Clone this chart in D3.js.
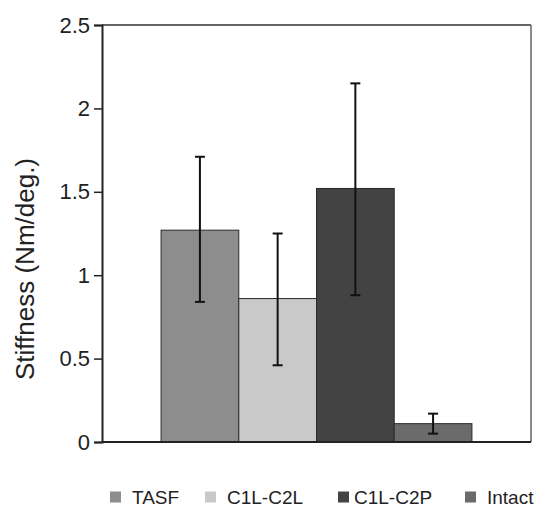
<!DOCTYPE html>
<html>
<head>
<meta charset="utf-8">
<script src="https://cdn.jsdelivr.net/npm/d3@7"></script>
<style>
  body { margin: 0; background: #fff; }
  svg { display: block; font-family: Arial, "Liberation Sans", sans-serif; }
</style>
</head>
<body>
<div id="chart"></div>
<script>
const SERIES = ['TASF', 'C1L-C2L', 'C1L-C2P', 'Intact']
const MEANS = [1.27, 0.86, 1.52, 0.11]
const ERR_LOW = [0.84, 0.46, 0.88, 0.05]
const ERR_HIGH = [1.71, 1.25, 2.15, 0.17]
const COLORS = ['#8d8d8d', '#c9c9c9', '#434343', '#6b6b6b']
const Y_TICKS = [0, 0.5, 1, 1.5, 2, 2.5]
const Y_TICK_LABELS = ['0', '0.5', '1', '1.5', '2', '2.5']

const W = 539, H = 510
const margin = { top: 25, right: 8, bottom: 68, left: 102 }
const iw = W - margin.left - margin.right
const ih = H - margin.top - margin.bottom

const svg = d3.select('#chart').append('svg')
  .attr('width', W)
  .attr('height', H)

const g = svg.append('g').attr('transform', `translate(${margin.left},${margin.top})`)

const y = d3.scaleLinear().domain([0, 2.5]).range([ih, 0])

// one category group, four bars
const group = d3.scaleBand().domain(['all']).range([0, iw]).paddingOuter(0.19).paddingInner(0)
const x = d3.scaleBand().domain(SERIES).range([0, group.bandwidth()])

const rows = SERIES.map((s, i) => ({ s, v: MEANS[i], lo: ERR_LOW[i], hi: ERR_HIGH[i], c: COLORS[i] }))

// box: top + right
g.append('line').attr('x1', 0).attr('x2', iw).attr('y1', 0).attr('y2', 0)
  .attr('stroke', '#333').attr('stroke-width', 1.5)
g.append('line').attr('x1', iw).attr('x2', iw).attr('y1', 0).attr('y2', ih)
  .attr('stroke', '#666').attr('stroke-width', 1.5)

const bars = g.append('g').attr('transform', `translate(${group('all')},0)`)

bars.selectAll('rect')
  .data(rows)
  .enter().append('rect')
  .attr('x', d => x(d.s))
  .attr('width', x.bandwidth())
  .attr('y', d => y(d.v))
  .attr('height', d => ih - y(d.v))
  .attr('fill', d => d.c)
  .attr('stroke', '#2a2a2a')
  .attr('stroke-width', 1)

// error bars
const eb = bars.selectAll('g.err')
  .data(rows)
  .enter().append('g').attr('class', 'err')
  .attr('transform', d => `translate(${x(d.s) + x.bandwidth() / 2},0)`)
  .attr('stroke', '#111')
  .attr('stroke-width', 2)

eb.append('line').attr('y1', d => y(d.lo)).attr('y2', d => y(d.hi))
eb.append('line').attr('x1', -5).attr('x2', 5).attr('y1', d => y(d.hi)).attr('y2', d => y(d.hi))
eb.append('line').attr('x1', -5).attr('x2', 5).attr('y1', d => y(d.lo)).attr('y2', d => y(d.lo))

// y axis
const yAxis = g.append('g')
  .call(d3.axisLeft(y)
    .tickValues(Y_TICKS)
    .tickFormat((d, i) => Y_TICK_LABELS[i])
    .tickSize(8)
    .tickPadding(4))
yAxis.select('.domain').attr('stroke', '#222').attr('stroke-width', 2)
yAxis.selectAll('.tick line').attr('stroke', '#222').attr('stroke-width', 1.5)
yAxis.selectAll('.tick text')
  .attr('font-size', 22)
  .attr('fill', '#222')
  .style('font-family', 'Arial, "Liberation Sans", sans-serif')

// baseline
g.append('line').attr('x1', 0).attr('x2', iw).attr('y1', ih).attr('y2', ih)
  .attr('stroke', '#222').attr('stroke-width', 2)

// y title
svg.append('text')
  .attr('transform', 'translate(25,269) rotate(-90)')
  .attr('text-anchor', 'middle')
  .attr('dominant-baseline', 'central')
  .attr('font-size', 26)
  .attr('fill', '#222')
  .text('Stiffness (Nm/deg.)')

// legend
const LEGEND_X = [110, 205, 338, 465]
const legend = svg.append('g').attr('transform', 'translate(0,497)')
const li = legend.selectAll('g')
  .data(rows)
  .enter().append('g')
  .attr('transform', (d, i) => `translate(${LEGEND_X[i]},0)`)
li.append('rect')
  .attr('x', 0).attr('y', -5.5)
  .attr('width', 11).attr('height', 11)
  .attr('fill', d => d.c)
li.append('text')
  .attr('x', (d, i) => i === 2 ? 16 : 22)
  .attr('y', 0)
  .attr('dominant-baseline', 'central')
  .attr('font-size', 19)
  .attr('fill', '#222')
  .text(d => d.s)
</script>
</body>
</html>
